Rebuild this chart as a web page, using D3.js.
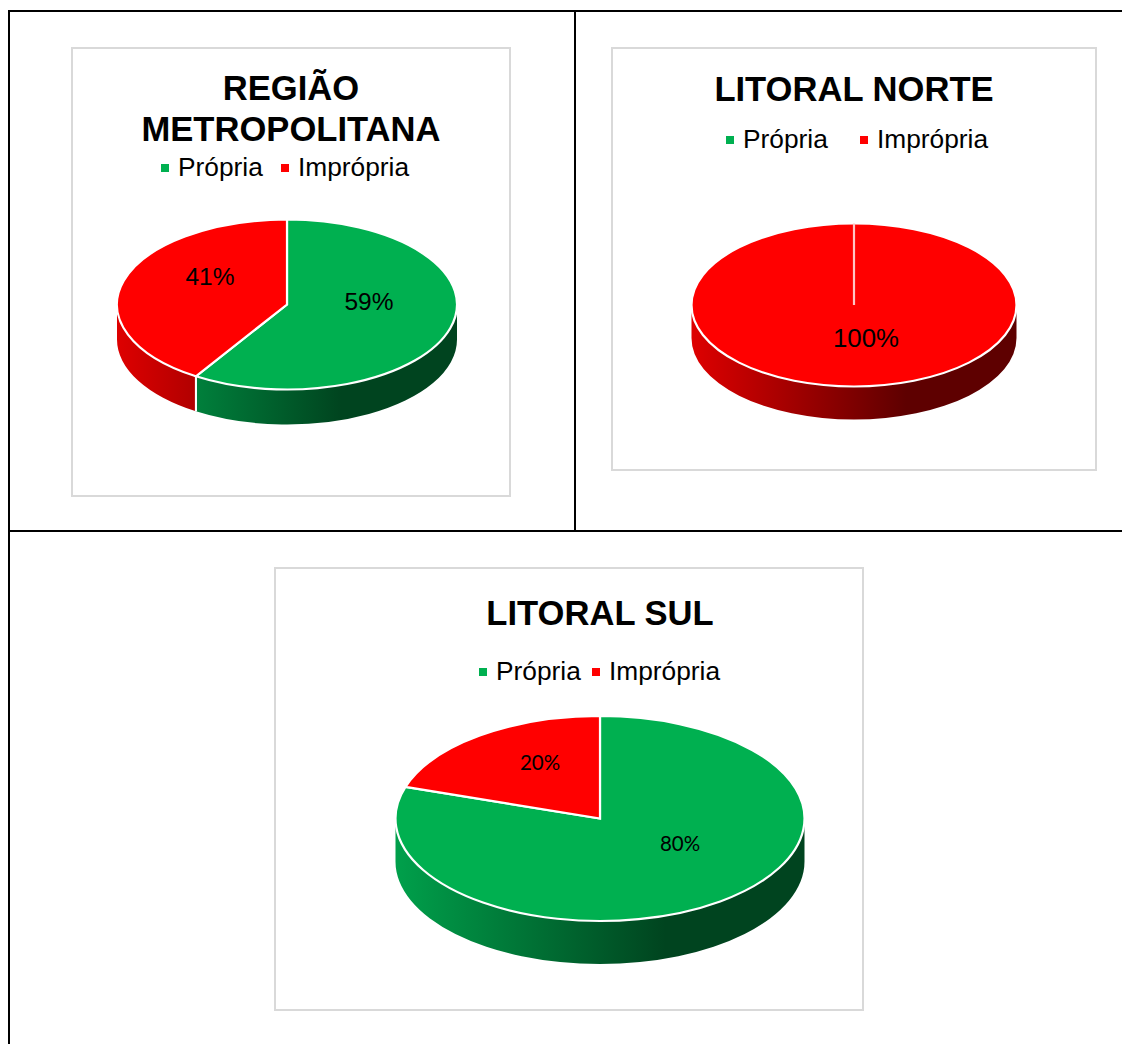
<!DOCTYPE html>
<html>
<head>
<meta charset="utf-8">
<script src="https://cdn.jsdelivr.net/npm/d3@7"></script>
<style>
  html, body { margin: 0; padding: 0; background: #fff; }
  svg { display: block; }
  text { font-family: "Liberation Sans", Arial, sans-serif; fill: #000; }
</style>
</head>
<body>
<script>
// chart values
const categories = ["Própria", "Imprópria"];
const titles = [["REGIÃO", "METROPOLITANA"], ["LITORAL NORTE"], ["LITORAL SUL"]];
const regiaoValues = [59, 41];
const norteValues = [0, 100];
const sulValues = [80, 20];

const width = 1122;
const height = 1044;

const topColor = ["#00b050", "#ff0000"];
const sideLight = ["#00a04b", "#de0000"];
const sideDark = ["#00441f", "#5e0000"];

// layout of each panel, measured on the page
const panels = [
    {
        values: regiaoValues, title: titles[0], titleX: 291, titleY: [100, 141],
        frame: [72, 48, 438, 448], cx: 287, cy: 304.5, rx: 170, ry: 85, depth: 35,
        swatchX: [161, 281], textX: [178, 298], legendY: 176,
        labels: [[369, 310], [210, 285]], labelFont: "Liberation Sans", labelSize: 24.5
    },
    {
        values: norteValues, title: titles[1], titleX: 854, titleY: [101],
        frame: [612, 48, 484, 422], cx: 854, cy: 305, rx: 162.5, ry: 81.5, depth: 33,
        swatchX: [726, 860], textX: [743, 877], legendY: 148,
        labels: [null, [866, 347]], labelFont: "Liberation Sans", labelSize: 25.8
    },
    {
        values: sulValues, title: titles[2], titleX: 600, titleY: [625],
        frame: [275, 568, 588, 442], cx: 600, cy: 818.5, rx: 204.5, ry: 102.5, depth: 43,
        swatchX: [479, 592], textX: [496, 609], legendY: 680,
        labels: [[680, 851], [540, 770]], labelFont: "Lato", labelSize: 20.5
    }
];

const svg = d3.select("body").append("svg")
    .attr("width", width)
    .attr("height", height)
    .attr("viewBox", [0, 0, width, height]);

const defs = svg.append("defs");

// table rules behind the charts
const rules = [[9, 11, width, 11], [9, 10, 9, height], [575, 11, 575, 531], [9, 531, width, 531]];
svg.append("g")
    .attr("stroke", "#000")
    .attr("stroke-width", 2)
    .selectAll("line")
    .data(rules)
    .join("line")
    .attr("x1", d => d[0])
    .attr("y1", d => d[1])
    .attr("x2", d => d[2])
    .attr("y2", d => d[3]);

const pie = d3.pie().sort(null).value(d => d);

panels.forEach(function (p, idx) {
    const g = svg.append("g");

    g.append("rect")
        .attr("x", p.frame[0])
        .attr("y", p.frame[1])
        .attr("width", p.frame[2])
        .attr("height", p.frame[3])
        .attr("fill", "#fff")
        .attr("stroke", "#d9d9d9")
        .attr("stroke-width", 2);

    // title
    p.title.forEach(function (line, i) {
        g.append("text")
            .attr("x", p.titleX)
            .attr("y", p.titleY[i])
            .attr("text-anchor", "middle")
            .style("font-size", "34.6px")
            .style("font-weight", "bold")
            .text(line);
    });

    // legend
    categories.forEach(function (c, i) {
        g.append("rect")
            .attr("x", p.swatchX[i])
            .attr("y", p.legendY - 12)
            .attr("width", 8)
            .attr("height", 8)
            .attr("fill", topColor[i]);
        g.append("text")
            .attr("x", p.textX[i])
            .attr("y", p.legendY)
            .style("font-size", "26.3px")
            .text(c);
    });

    // x -> ellipse position, the wall shading runs over the pie width
    const xPos = d3.scaleLinear().domain([-1, 1]).range([p.cx - p.rx, p.cx + p.rx]);
    const yPos = d3.scaleLinear().domain([-1, 1]).range([p.cy - p.ry, p.cy + p.ry]);

    topColor.forEach(function (c, i) {
        const grad = defs.append("linearGradient")
            .attr("id", "side" + idx + "_" + i)
            .attr("gradientUnits", "userSpaceOnUse")
            .attr("x1", xPos(-1)).attr("y1", 0)
            .attr("x2", xPos(1)).attr("y2", 0);
        grad.append("stop").attr("offset", 0).attr("stop-color", sideLight[i]);
        grad.append("stop").attr("offset", 0.66).attr("stop-color", sideDark[i]);
        grad.append("stop").attr("offset", 1).attr("stop-color", sideDark[i]);
    });

    const slices = pie(p.values);

    // side walls: only the part of a slice on the front half can be seen
    slices.forEach(function (s) {
        const a0 = Math.max(s.startAngle, Math.PI / 2);
        const a1 = Math.min(s.endAngle, Math.PI * 3 / 2);
        if (a1 <= a0) return;
        const x0 = xPos(Math.sin(a0)), y0 = yPos(-Math.cos(a0));
        const x1 = xPos(Math.sin(a1)), y1 = yPos(-Math.cos(a1));
        const d = "M" + x0 + "," + y0
            + "A" + p.rx + "," + p.ry + " 0 0 1 " + x1 + "," + y1
            + "V" + (y1 + p.depth)
            + "A" + p.rx + "," + p.ry + " 0 0 0 " + x0 + "," + (y0 + p.depth)
            + "Z";
        g.append("path")
            .attr("d", d)
            .attr("fill", "url(#side" + idx + "_" + s.index + ")");
        // white edge where two walls meet
        [a0, a1].forEach(function (a) {
            if (a > Math.PI / 2 && a < Math.PI * 3 / 2) {
                g.append("line")
                    .attr("x1", xPos(Math.sin(a)))
                    .attr("y1", yPos(-Math.cos(a)))
                    .attr("x2", xPos(Math.sin(a)))
                    .attr("y2", yPos(-Math.cos(a)) + p.depth)
                    .attr("stroke", "#fff")
                    .attr("stroke-width", 2);
            }
        });
    });

    // top face: a unit pie squashed into the ellipse
    const arc = d3.arc().innerRadius(0).outerRadius(p.rx);
    const face = g.append("g")
        .attr("transform", "translate(" + p.cx + "," + p.cy + ") scale(1," + (p.ry / p.rx) + ")");

    face.selectAll("path")
        .data(slices.filter(s => s.value > 0))
        .join("path")
        .attr("d", arc)
        .attr("fill", d => topColor[d.index])
        .attr("stroke", "#fff")
        .attr("stroke-width", 2.2)
        .attr("vector-effect", "non-scaling-stroke");

    // a full circle has no radial edge, so put the seam back
    slices.filter(s => s.endAngle - s.startAngle >= Math.PI * 2 - 1e-6).forEach(function (s) {
        face.append("line")
            .attr("x1", 0)
            .attr("y1", 0)
            .attr("x2", p.rx * Math.sin(s.startAngle))
            .attr("y2", -p.rx * Math.cos(s.startAngle))
            .attr("stroke", "#ffc4c4")
            .attr("stroke-width", 2.2)
            .attr("vector-effect", "non-scaling-stroke");
    });

    // data labels
    p.values.forEach(function (v, i) {
        if (!p.labels[i]) return;
        g.append("text")
            .attr("x", p.labels[i][0])
            .attr("y", p.labels[i][1])
            .attr("text-anchor", "middle")
            .style("font-family", p.labelFont)
            .style("font-size", p.labelSize + "px")
            .text(v + "%");
    });
});
</script>
</body>
</html>
